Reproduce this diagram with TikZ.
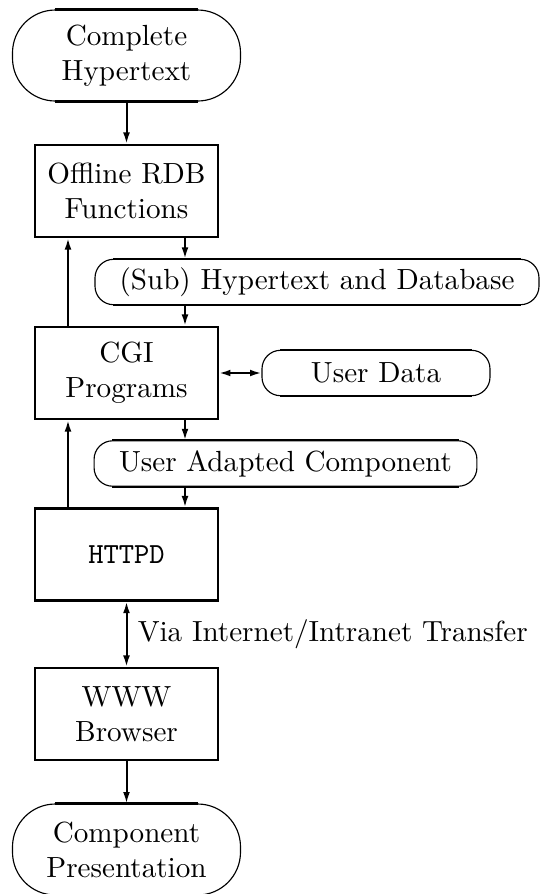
\documentclass[tikz,border=0pt]{standalone}
\usetikzlibrary{arrows.meta,calc}
\begin{document}
\begin{tikzpicture}[x=0.35pt,y=-0.35pt,
  every node/.style={font=\fontsize{10.2pt}{12.3pt}\selectfont},
  box/.style={draw,line width=0.8pt,minimum width=64pt,minimum height=32.2pt,inner sep=0pt,align=center},
  ovalbig/.style={draw,line width=0.4pt,rounded corners=15pt,minimum width=79.8pt,minimum height=31.85pt,inner sep=0pt,align=center},
  ovalsmall/.style={draw,line width=0.4pt,rounded corners=6.5pt,minimum height=15.9pt,inner sep=0pt},
  flow/.style={line width=0.7pt,-{Latex[length=4pt,width=2.4pt]}},
  twoway/.style={line width=0.7pt,{Latex[length=4pt,width=2.4pt]}-{Latex[length=4pt,width=2.4pt]}},
  rim/.style={line width=0.8pt}]
  \useasboundingbox (0,0) rectangle (540,894);

  % columns used by the vertical connectors
  \coordinate (colL) at (68,0);
  \coordinate (colR) at (185,0);

  % nodes
  \node[ovalbig] (cplt) at (126.5,55.5) {Complete\\Hypertext};
  \node[box] (off) at (126.5,191) {Offline RDB\\Functions};
  \node[ovalsmall,minimum width=155.4pt] (sub) at (317,282) {(Sub) Hypertext and Database};
  \node[box] (cgi) at (126.5,373) {CGI\\Programs};
  \node[ovalsmall,minimum width=79.8pt] (ud) at (376,373) {User Data};
  \node[ovalsmall,minimum width=134pt] (uac) at (285.5,463.5) {User Adapted Component};
  \node[box] (httpd) at (126.5,554.5) {\texttt{HTTPD}};
  \node[box] (www) at (126.5,714) {WWW\\Browser};
  \node[ovalbig] (pres) at (126.5,849.5) {Component\\Presentation};

  % heavier straight edges of the ovals
  \foreach \n/\r in {cplt/43,pres/43,sub/18.6,ud/18.6,uac/18.6}{
    \draw[rim] ($(\n.north west)+(\r,0)$) -- ($(\n.north east)+(-\r,0)$);
    \draw[rim] ($(\n.south west)+(\r,0)$) -- ($(\n.south east)+(-\r,0)$);
  }

  % connectors
  \draw[flow] (cplt) -- (off);
  \draw[flow] (off.south -| colR) -- (sub.north -| colR);
  \draw[flow] (sub.south -| colR) -- (cgi.north -| colR);
  \draw[flow] (cgi.north -| colL) -- (off.south -| colL);
  \draw[twoway] (cgi.east) -- (ud.west);
  \draw[flow] (cgi.south -| colR) -- (uac.north -| colR);
  \draw[flow] (uac.south -| colR) -- (httpd.north -| colR);
  \draw[flow] (httpd.north -| colL) -- (cgi.south -| colL);
  \draw[twoway] (httpd) -- (www)
    node[midway,right,inner sep=3.6pt] {Via Internet/Intranet Transfer};
  \draw[flow] (www) -- (pres);
\end{tikzpicture}
\end{document}
